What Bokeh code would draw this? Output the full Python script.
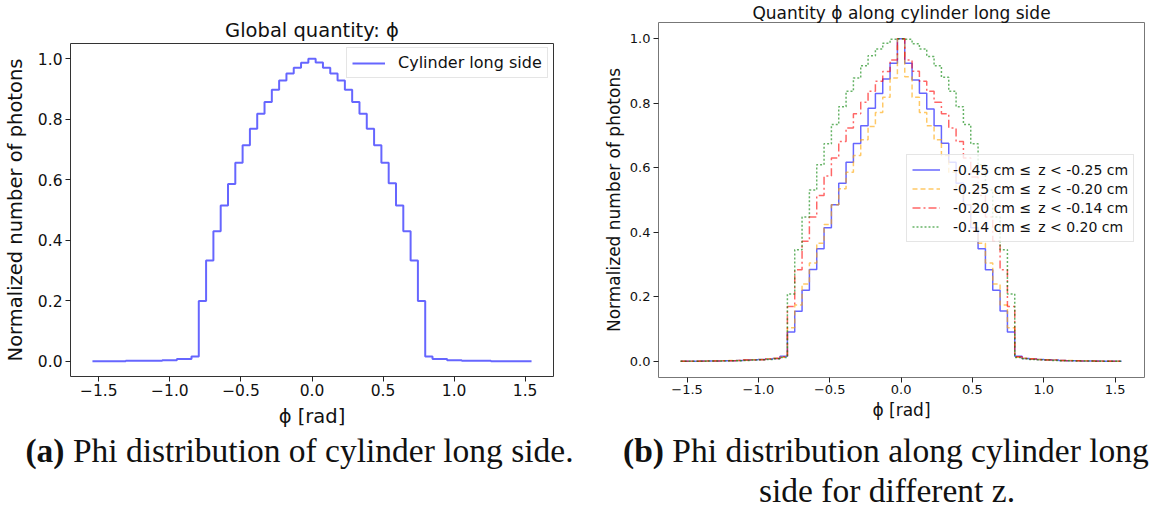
from bokeh.plotting import figure
from bokeh.models import (Range1d, FixedTicker, CustomJSTickFormatter, Legend,
                          LegendItem, Div)
from bokeh.layouts import row, column
from bokeh.embed import file_html
from bokeh.resources import INLINE

# ---------------- data ----------------
bin_width = 0.0514      # rad, width of one histogram bin
outer_edge = 1.545      # rad, outermost histogram edge
n_half = 30             # bins on each side of the central bin

x_ticks = [-1.5, -1.0, -0.5, 0.0, 0.5, 1.0, 1.5]
y_ticks = [0.0, 0.2, 0.4, 0.6, 0.8, 1.0]

# (a) Global quantity, cylinder long side (61 bins, centre bin at phi = 0)
global_phi = [0.000, 0.000, 0.000, 0.000, 0.000,
              0.002, 0.002, 0.002, 0.002, 0.002,
              0.004, 0.004, 0.008, 0.008, 0.016,
              0.199, 0.333, 0.430, 0.515, 0.586, 0.656, 0.714, 0.768,
              0.818, 0.857, 0.897, 0.928, 0.951, 0.970, 0.986,
              1.000,
              0.987, 0.970, 0.951, 0.928, 0.897, 0.857, 0.818, 0.768,
              0.714, 0.656, 0.588, 0.515, 0.430, 0.333, 0.199,
              0.016, 0.008, 0.008, 0.004, 0.004,
              0.002, 0.002, 0.002, 0.002, 0.000,
              0.000, 0.000, 0.000, 0.000, 0.000]

# (b) per z slice
z_labels = ["-0.45 cm \u2264\u2002z < -0.25 cm",
            "-0.25 cm \u2264\u2002z < -0.20 cm",
            "-0.20 cm \u2264\u2002z < -0.14 cm",
            "-0.14 cm \u2264\u2002z < 0.20 cm"]

z_a = [0.000, 0.000, 0.000, 0.001, 0.001, 0.001, 0.002, 0.002, 0.003, 0.004,
       0.005, 0.006, 0.007, 0.009, 0.016,
       0.091, 0.155, 0.220, 0.285, 0.349, 0.414, 0.485, 0.552, 0.617, 0.675,
       0.730, 0.784, 0.830, 0.875, 0.924,
       1.000,
       0.924, 0.872, 0.831, 0.782, 0.730, 0.676, 0.617, 0.552, 0.485, 0.414,
       0.349, 0.284, 0.220, 0.156, 0.091,
       0.016, 0.009, 0.007, 0.006, 0.005, 0.004, 0.003, 0.002, 0.002, 0.001,
       0.001, 0.001, 0.000, 0.000, 0.000]

z_b = [0.000, 0.000, 0.000, 0.001, 0.001, 0.002, 0.002, 0.003, 0.003, 0.004,
       0.005, 0.006, 0.008, 0.010, 0.013,
       0.104, 0.175, 0.240, 0.305, 0.366, 0.424, 0.485, 0.535, 0.586, 0.638,
       0.687, 0.728, 0.771, 0.818, 0.878,
       1.000,
       0.882, 0.818, 0.771, 0.730, 0.687, 0.638, 0.586, 0.535, 0.485, 0.424,
       0.366, 0.305, 0.240, 0.175, 0.104,
       0.013, 0.010, 0.008, 0.006, 0.005, 0.004, 0.003, 0.003, 0.002, 0.002,
       0.001, 0.001, 0.000, 0.000, 0.000]

z_c = [0.000, 0.000, 0.000, 0.000, 0.001, 0.001, 0.002, 0.002, 0.003, 0.004,
       0.004, 0.005, 0.007, 0.009, 0.014,
       0.170, 0.284, 0.372, 0.447, 0.514, 0.574, 0.630, 0.681, 0.723, 0.767,
       0.803, 0.837, 0.868, 0.898, 0.934,
       1.000,
       0.934, 0.899, 0.868, 0.837, 0.803, 0.767, 0.723, 0.681, 0.630, 0.571,
       0.514, 0.447, 0.372, 0.284, 0.170,
       0.014, 0.009, 0.007, 0.005, 0.004, 0.004, 0.003, 0.002, 0.002, 0.001,
       0.001, 0.000, 0.000, 0.000, 0.000]

z_d = [0.000, 0.000, 0.000, 0.000, 0.001, 0.001, 0.001, 0.002, 0.002, 0.003,
       0.004, 0.005, 0.006, 0.008, 0.012,
       0.209, 0.346, 0.447, 0.531, 0.609, 0.674, 0.734, 0.789, 0.837, 0.878,
       0.916, 0.947, 0.968, 0.986, 0.998,
       1.000,
       0.998, 0.984, 0.968, 0.945, 0.916, 0.880, 0.837, 0.789, 0.734, 0.674,
       0.609, 0.531, 0.447, 0.346, 0.209,
       0.012, 0.008, 0.006, 0.005, 0.004, 0.003, 0.002, 0.002, 0.001, 0.001,
       0.001, 0.000, 0.000, 0.000, 0.000]

z_series = [z_a, z_b, z_c, z_d]

# ---------------- styles ----------------
z_colors = ["blue", "orange", "red", "green"]
z_dashes = ["solid", "5 3", "8 3 2 3", "2 2"]
FONT = "DejaVu Sans"
TXT = "#111111"

edges = [-outer_edge] + [(k + 0.5) * bin_width for k in range(-n_half, n_half)] + [outer_edge]

tick_fmt = CustomJSTickFormatter(code="""
    return (tick < 0 ? '\\u2212' : '') + Math.abs(tick).toFixed(1);
""")


def make_fig(width, height, bl, br, bt, bb, xr, tick_px, label_px, outline,
             title, title_px, title_standoff, ylab_standoff, xlab_standoff):
    p = figure(width=width, height=height, output_backend="svg",
               toolbar_location=None,
               x_range=Range1d(*xr), y_range=Range1d(-0.05, 1.05),
               min_border_left=bl, min_border_right=br,
               min_border_top=bt, min_border_bottom=bb)
    p.frame_align = False
    p.grid.visible = False
    p.outline_line_color = outline
    p.outline_line_width = 1
    p.background_fill_color = "white"
    p.border_fill_color = "white"
    p.title.text = title
    p.title.align = "center"
    p.title.text_font = FONT
    p.title.text_font_size = title_px
    p.title.text_font_style = "normal"
    p.title.text_color = TXT
    p.title.standoff = title_standoff
    for ax in (p.xaxis[0], p.yaxis[0]):
        ax.axis_line_color = None
        ax.major_tick_out = 5
        ax.major_tick_in = 0
        ax.major_tick_line_color = "#222222"
        ax.minor_tick_line_color = None
        ax.major_label_text_font = FONT
        ax.major_label_text_font_size = tick_px
        ax.major_label_text_color = TXT
        ax.axis_label_text_font = FONT
        ax.axis_label_text_font_size = label_px
        ax.axis_label_text_font_style = "normal"
        ax.axis_label_text_color = TXT
        ax.formatter = tick_fmt
    p.xaxis[0].ticker = FixedTicker(ticks=x_ticks)
    p.yaxis[0].ticker = FixedTicker(ticks=y_ticks)
    p.xaxis[0].major_label_standoff = 2
    p.yaxis[0].major_label_standoff = 3
    p.xaxis[0].axis_label_standoff = xlab_standoff
    p.yaxis[0].axis_label_standoff = ylab_standoff
    p.xaxis[0].axis_label = "\u03d5 [rad]"
    p.yaxis[0].axis_label = "Normalized number of photons"
    return p


# ---------------- (a) ----------------
p1 = make_fig(576, 430, 66, 23, 43, 53, (-1.6995, 1.6995), "15.5px", "19.5px",
              "#333333", "Global quantity: \u03d5", "19.5px", 4, 8, 6)
r1 = p1.step(x=edges, y=global_phi + [global_phi[-1]], mode="after",
             line_color="blue", line_alpha=0.6, line_width=2)
leg1 = Legend(items=[LegendItem(label="Cylinder long side", renderers=[r1])],
              location=(276, 298), margin=0, padding=5, spacing=0,
              glyph_width=33, glyph_height=18, label_height=18, label_standoff=13,
              label_text_font=FONT, label_text_font_size="16px", label_text_color=TXT,
              border_line_color="#cccccc", border_line_width=1,
              background_fill_alpha=0.8)
p1.add_layout(leg1)

# ---------------- (b) ----------------
p2 = make_fig(576, 430, 82, 8, 22, 53, (-1.70, 1.706), "13px", "17px",
              "#777777", "Quantity \u03d5 along cylinder long side", "17px", 0, 3, 3)
items = []
for vals, lab, col, dash in zip(z_series, z_labels, z_colors, z_dashes):
    r = p2.step(x=edges, y=vals + [vals[-1]], mode="after", line_color=col,
                line_alpha=0.6, line_width=1.5, line_dash=dash)
    items.append(LegendItem(label=lab, renderers=[r]))
leg2 = Legend(items=items, location=(248, 135), margin=0, padding=5, spacing=0,
              glyph_width=28, glyph_height=19, label_height=19, label_standoff=13,
              label_text_font=FONT, label_text_font_size="14px", label_text_color=TXT,
              border_line_color="#cccccc", border_line_width=1,
              background_fill_alpha=0.8)
p2.add_layout(leg2)

# ---------------- captions ----------------
cap_style = ("font-family:'Liberation Serif'; font-size:33.5px; line-height:39.7px; "
             "color:#111111; white-space:nowrap; margin-top:1px; box-sizing:border-box;")
div_a = Div(text=('<div style="%s width:591px; padding-left:8px; text-align:center;">'
                  '<b>(a)</b> Phi distribution of cylinder long side.</div>' % cap_style),
            width=591, height=79, margin=0, styles={"overflow": "hidden"})
div_b = Div(text=('<div style="%s width:561px;">'
                  '<div style="padding-left:32px;"><b>(b)</b> Phi distribution along cylinder long</div>'
                  '<div style="box-sizing:border-box; width:561px; padding-left:31px; '
                  'text-align:center;">side for different z.</div>'
                  '</div>' % cap_style),
            width=561, height=79, margin=0, styles={"overflow": "hidden"})

layout = column(row(p1, p2), row(div_a, div_b))

with open("out.html", "w") as f:
    f.write(file_html(layout, INLINE))
